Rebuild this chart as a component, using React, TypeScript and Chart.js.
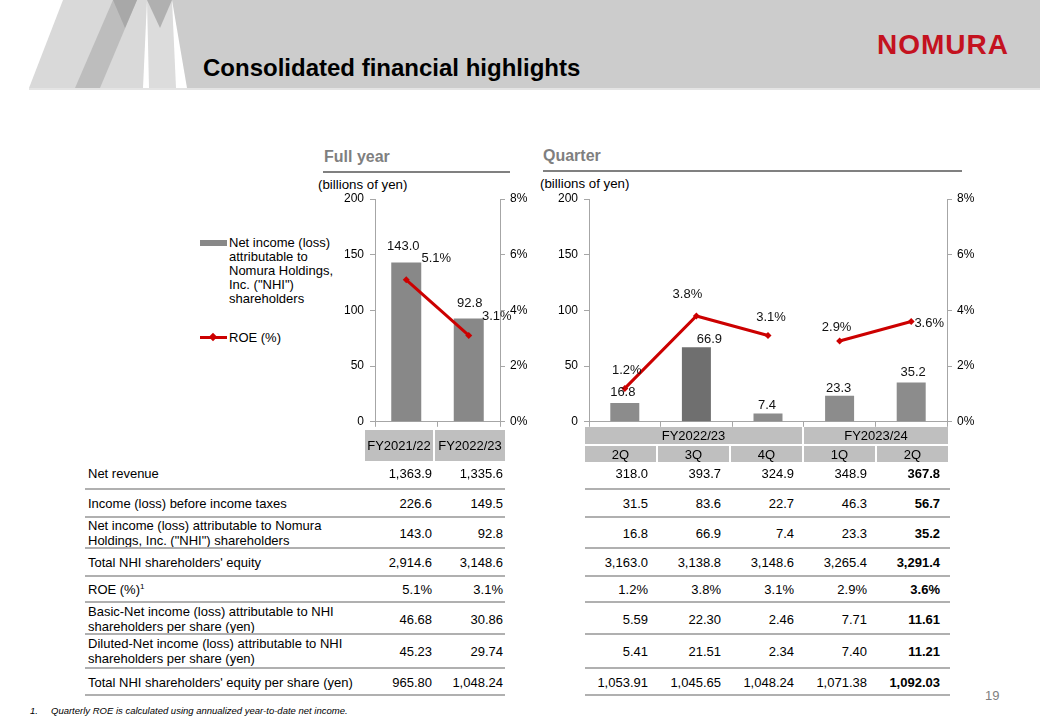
import React, { useEffect, useRef } from "react";
import { Chart, registerables } from "chart.js";
Chart.register(...registerables);

// ---------- data ----------
const fyCategories = ["FY2021/22", "FY2022/23"];
const fyNetIncome = [143.0, 92.8];
const fyRoe = [5.1, 3.1];

const qYears = ["FY2022/23", "FY2023/24"];
const qYearSpan = [3, 2];
const qCategories = ["2Q", "3Q", "4Q", "1Q", "2Q"];
const qYearOf = [0, 0, 0, 1, 1];
const qNetIncome = [16.8, 66.9, 7.4, 23.3, 35.2];
const qRoe = [1.2, 3.8, 3.1, 2.9, 3.6];

const leftTicks = [0, 50, 100, 150, 200];
const rightTicks = [0, 2, 4, 6, 8];

const rowLabels = [
  ["Net revenue"],
  ["Income (loss) before income taxes"],
  ["Net income (loss) attributable to Nomura", 'Holdings, Inc. ("NHI") shareholders'],
  ["Total NHI shareholders' equity"],
  ["ROE (%)"],
  ["Basic-Net income (loss) attributable to NHI", "shareholders per share (yen)"],
  ["Diluted-Net income (loss) attributable to NHI", "shareholders per share (yen)"],
  ["Total NHI shareholders' equity per share (yen)"],
];
const fyRows = [
  ["1,363.9", "1,335.6"],
  ["226.6", "149.5"],
  ["143.0", "92.8"],
  ["2,914.6", "3,148.6"],
  ["5.1%", "3.1%"],
  ["46.68", "30.86"],
  ["45.23", "29.74"],
  ["965.80", "1,048.24"],
];
const qRows = [
  ["318.0", "393.7", "324.9", "348.9", "367.8"],
  ["31.5", "83.6", "22.7", "46.3", "56.7"],
  ["16.8", "66.9", "7.4", "23.3", "35.2"],
  ["3,163.0", "3,138.8", "3,148.6", "3,265.4", "3,291.4"],
  ["1.2%", "3.8%", "3.1%", "2.9%", "3.6%"],
  ["5.59", "22.30", "2.46", "7.71", "11.61"],
  ["5.41", "21.51", "2.34", "7.40", "11.21"],
  ["1,053.91", "1,045.65", "1,048.24", "1,071.38", "1,092.03"],
];

// ---------- style ----------
const FONT = '"Liberation Sans", Arial, Helvetica, sans-serif';
const RED = "#cc0000";
const AXIS = "#a6a6a6";
const BOX = "#bfbfbf";
const LINE = "#b0b0b0";

const labelPlugin = {
  id: "valueLabels",
  afterDatasetsDraw(chart: any, _args: any, opts: any) {
    const ctx = chart.ctx;
    ctx.save();
    ctx.font = `13px ${FONT}`;
    ctx.fillStyle = "#111";
    ctx.textAlign = "center";
    ctx.textBaseline = "middle";
    chart.data.datasets.forEach((ds: any, di: number) => {
      const meta = chart.getDatasetMeta(di);
      const offs = (opts.offsets && opts.offsets[di]) || [];
      const suffix = (opts.suffix && opts.suffix[di]) || "";
      meta.data.forEach((el: any, i: number) => {
        const v = ds.data[i];
        if (v == null) return;
        const [dx, dy] = offs[i] || [0, -10];
        ctx.fillText(v.toFixed(1) + suffix, el.x + dx, el.y + dy);
      });
    });
    ctx.restore();
  },
};

function makeConfig(
  categories: string[],
  bars: number[],
  barColors: string[],
  roe: number[],
  barPct: number,
  leftW: number,
  rightW: number,
  offsets: number[][][],
  segmentHidden: (i: number) => boolean
): any {
  const tickFont = { family: FONT, size: 12 };
  return {
    type: "bar",
    data: {
      labels: categories,
      datasets: [
        {
          type: "bar",
          data: bars,
          backgroundColor: barColors,
          borderWidth: 0,
          barPercentage: barPct,
          categoryPercentage: 1,
          yAxisID: "y",
          order: 2,
        },
        {
          type: "line",
          data: roe,
          borderColor: RED,
          backgroundColor: RED,
          borderWidth: 3,
          pointStyle: "rectRot",
          pointRadius: 3.5,
          pointBorderWidth: 0,
          tension: 0,
          yAxisID: "y2",
          order: 1,
          segment: {
            borderColor: (c: any) => (segmentHidden(c.p0DataIndex) ? "rgba(0,0,0,0)" : RED),
          },
        },
      ],
    },
    plugins: [labelPlugin],
    options: {
      animation: false,
      responsive: false,
      maintainAspectRatio: false,
      layout: { padding: { top: 14, left: 0, right: 0, bottom: 0 } },
      plugins: {
        legend: { display: false },
        tooltip: { enabled: false },
        valueLabels: { offsets, suffix: ["", "%"] },
      },
      scales: {
        x: {
          type: "category",
          offset: true,
          ticks: { display: false },
          grid: { display: true, offset: true, drawOnChartArea: false, drawTicks: true, tickLength: 5, color: AXIS },
          border: { display: true, color: AXIS, width: 1 },
          afterFit: (s: any) => {
            s.height = 12;
          },
        },
        y: {
          position: "left",
          min: 0,
          max: 200,
          afterBuildTicks: (s: any) => {
            s.ticks = leftTicks.map((v) => ({ value: v }));
          },
          ticks: { font: tickFont, color: "#000", padding: 6 },
          grid: { drawOnChartArea: false, drawTicks: true, tickLength: 5, color: AXIS },
          border: { display: true, color: AXIS, width: 1 },
          afterFit: (s: any) => {
            s.width = leftW;
          },
        },
        y2: {
          position: "right",
          min: 0,
          max: 8,
          afterBuildTicks: (s: any) => {
            s.ticks = rightTicks.map((v) => ({ value: v }));
          },
          ticks: { font: tickFont, color: "#000", padding: 5, callback: (v: any) => v + "%" },
          grid: { drawOnChartArea: false, drawTicks: true, tickLength: 5, color: AXIS },
          border: { display: true, color: AXIS, width: 1 },
          afterFit: (s: any) => {
            s.width = rightW;
          },
        },
      },
    },
  };
}

function ChartCanvas(props: { left: number; top: number; width: number; height: number; build: () => any }) {
  const ref = useRef<HTMLCanvasElement>(null);
  useEffect(() => {
    const chart = new Chart(ref.current as HTMLCanvasElement, props.build());
    return () => chart.destroy();
  }, []);
  return (
    <canvas
      ref={ref}
      width={props.width}
      height={props.height}
      style={{ position: "absolute", left: props.left, top: props.top, width: props.width, height: props.height }}
    />
  );
}

function T(props: {
  x: number;
  y: number;
  size?: number;
  children: any;
  align?: "left" | "right" | "center";
  w?: number;
  bold?: boolean;
  italic?: boolean;
  color?: string;
  lh?: number;
}) {
  const size = props.size || 13;
  const lh = props.lh || size;
  const align = props.align || "left";
  const w = props.w || 400;
  let left = props.x;
  if (align === "right") left = props.x - w;
  if (align === "center") left = props.x - w / 2;
  return (
    <div
      style={{
        position: "absolute",
        left,
        top: props.y - lh / 2,
        width: w,
        lineHeight: lh + "px",
        fontSize: size,
        fontFamily: FONT,
        fontWeight: props.bold ? 700 : 400,
        fontStyle: props.italic ? "italic" : "normal",
        color: props.color || "#000",
        textAlign: align,
        whiteSpace: "nowrap",
      }}
    >
      {props.children}
    </div>
  );
}

function Rect(props: { x: number; y: number; w: number; h: number; c: string }) {
  return (
    <div style={{ position: "absolute", left: props.x, top: props.y, width: props.w, height: props.h, background: props.c }} />
  );
}

const rowCenters = [473, 503, 533, 562.5, 589, 619, 651, 682];
const rowLines = [489, 517, 548, 576, 602, 634, 668, 695];
const fyColRight = [432, 503];
const qX0 = 585;
const qColW = 73;

export default function App() {
  const fyOffsets = [
    [
      [-3, -16],
      [1, -15],
    ],
    [
      [30, -21],
      [28, -19],
    ],
  ];
  const qOffsets = [
    [
      [-2, -11],
      [13, -8],
      [-1, -8],
      [-1, -7],
      [2, -10],
    ],
    [
      [2, -18],
      [-9, -22],
      [3, -18],
      [-3, -14],
      [18, 2],
    ],
  ];

  const qBarColors = qNetIncome.map((_, i) => (i === 1 ? "#6f6f6f" : "#8c8c8c"));
  const fyBarColors = fyNetIncome.map(() => "#888888");

  let acc = 0;
  const yearBoxes = qYears.map((y, i) => {
    const start = acc;
    acc += qYearSpan[i];
    return { label: y, x: qX0 + start * qColW, w: qYearSpan[i] * qColW - 2 };
  });

  return (
    <div style={{ position: "absolute", left: 0, top: 0, width: 1040, height: 720, background: "#fff", overflow: "hidden" }}>
      {/* header band */}
      <svg width={1040} height={92} style={{ position: "absolute", left: 0, top: 0 }}>
        <polygon points="172,0 1040,0 1040,88 187,88" fill="#cccccc" />
        <polygon points="63,0 147,0 143,88 29,88" fill="#d9d9d9" />
        <polygon points="113,0 137,0 100,88 75,88" fill="#bdbdbd" />
        <polygon points="113,0 137,0 125,28" fill="#a8a8a8" />
        <polygon points="147,0 172,0 176,88 149,88" fill="#dcdcdc" />
        <polygon points="147,0 172,0 160,28" fill="#b0b0b0" />
        <rect x={29} y={88} width={1011} height={2} fill="#e4e4e4" />
      </svg>
      <div
        style={{
          position: "absolute",
          left: 203,
          top: 56,
          lineHeight: "24px",
          fontSize: 24,
          fontWeight: 700,
          fontFamily: FONT,
          color: "#000",
          whiteSpace: "nowrap",
        }}
      >
        Consolidated financial highlights
      </div>
      <div
        style={{
          position: "absolute",
          left: 877,
          top: 31,
          lineHeight: "28px",
          fontSize: 28,
          fontWeight: 700,
          fontFamily: FONT,
          color: "#c4121f",
          letterSpacing: 1,
          whiteSpace: "nowrap",
        }}
      >
        NOMURA
      </div>

      {/* section headers */}
      <T x={324} y={157} size={16} bold color="#7f7f7f">
        Full year
      </T>
      <Rect x={323} y={171} w={187} h={2} c="#808080" />
      <T x={543} y={156} size={16} bold color="#7f7f7f">
        Quarter
      </T>
      <Rect x={543} y={170} w={419} h={2} c="#808080" />
      <T x={318} y={185} size={13.3}>
        (billions of yen)
      </T>
      <T x={540} y={184} size={13.3}>
        (billions of yen)
      </T>

      {/* legend */}
      <Rect x={200} y={240} w={27} h={6} c="#888888" />
      <div
        style={{
          position: "absolute",
          left: 229,
          top: 236,
          lineHeight: "14px",
          fontSize: 13,
          fontFamily: FONT,
          color: "#000",
          whiteSpace: "nowrap",
        }}
      >
        Net income (loss)
        <br />
        attributable to
        <br />
        Nomura Holdings,
        <br />
        Inc. ("NHI")
        <br />
        shareholders
      </div>
      <Rect x={200} y={336} w={27} h={3} c={RED} />
      <div
        style={{
          position: "absolute",
          left: 210,
          top: 334,
          width: 6,
          height: 6,
          background: RED,
          transform: "rotate(45deg)",
        }}
      />
      <T x={229} y={337}>
        ROE (%)
      </T>

      {/* charts */}
      <ChartCanvas
        left={330}
        top={185}
        width={200}
        height={250}
        build={() =>
          makeConfig(fyCategories, fyNetIncome, fyBarColors, fyRoe, 0.48, 45, 30, fyOffsets, () => false)
        }
      />
      <ChartCanvas
        left={539}
        top={185}
        width={443}
        height={250}
        build={() =>
          makeConfig(qCategories, qNetIncome, qBarColors, qRoe, 0.405, 50, 35, qOffsets, (i) => qYearOf[i] !== qYearOf[i + 1])
        }
      />

      {/* full-year header boxes */}
      {fyCategories.map((c, i) => (
        <React.Fragment key={c}>
          <Rect x={i === 0 ? 365 : 435} y={430} w={i === 0 ? 68 : 70} h={31} c={BOX} />
          <T x={i === 0 ? 399 : 470} y={445.5} align="center" w={70}>
            {c}
          </T>
        </React.Fragment>
      ))}

      {/* quarter header boxes */}
      {yearBoxes.map((b) => (
        <React.Fragment key={b.label}>
          <Rect x={b.x} y={427} w={b.w} h={17} c={BOX} />
          <T x={b.x + b.w / 2} y={435.5} align="center" w={b.w}>
            {b.label}
          </T>
        </React.Fragment>
      ))}
      {qCategories.map((c, i) => (
        <React.Fragment key={"q" + i}>
          <Rect x={qX0 + i * qColW} y={446} w={qColW - 2} h={16} c={BOX} />
          <T x={qX0 + i * qColW + (qColW - 2) / 2} y={454} align="center" w={qColW}>
            {c}
          </T>
        </React.Fragment>
      ))}

      {/* table */}
      {rowLabels.map((lab, r) => (
        <React.Fragment key={"r" + r}>
          <div
            style={{
              position: "absolute",
              left: 88,
              top: rowCenters[r] - (lab.length * 15) / 2,
              lineHeight: "15px",
              fontSize: 13,
              fontFamily: FONT,
              color: "#000",
              whiteSpace: "nowrap",
            }}
          >
            {lab.map((l, k) => (
              <div key={k}>
                {l}
                {r === 4 && k === 0 ? (
                  <sup style={{ fontSize: 8, lineHeight: 0, verticalAlign: "5px" }}>1</sup>
                ) : null}
              </div>
            ))}
          </div>
          {fyRows[r].map((v, c) => (
            <T key={"f" + c} x={fyColRight[c]} y={rowCenters[r]} align="right" w={80}>
              {v}
            </T>
          ))}
          {qRows[r].map((v, c) => (
            <T key={"q" + c} x={qX0 + c * qColW + qColW - 10} y={rowCenters[r]} align="right" w={80} bold={c === 4}>
              {v}
            </T>
          ))}
          <Rect x={85} y={rowLines[r] - 1} w={420} h={2} c={LINE} />
          <Rect x={585} y={rowLines[r] - 1} w={365} h={2} c={LINE} />
        </React.Fragment>
      ))}

      <T x={985} y={695} size={13} color="#7f7f7f">
        19
      </T>
      <T x={30} y={711} size={9.5} italic>
        1.
      </T>
      <T x={51} y={711} size={9.5} italic>
        Quarterly ROE is calculated using annualized year-to-date net income.
      </T>
    </div>
  );
}
